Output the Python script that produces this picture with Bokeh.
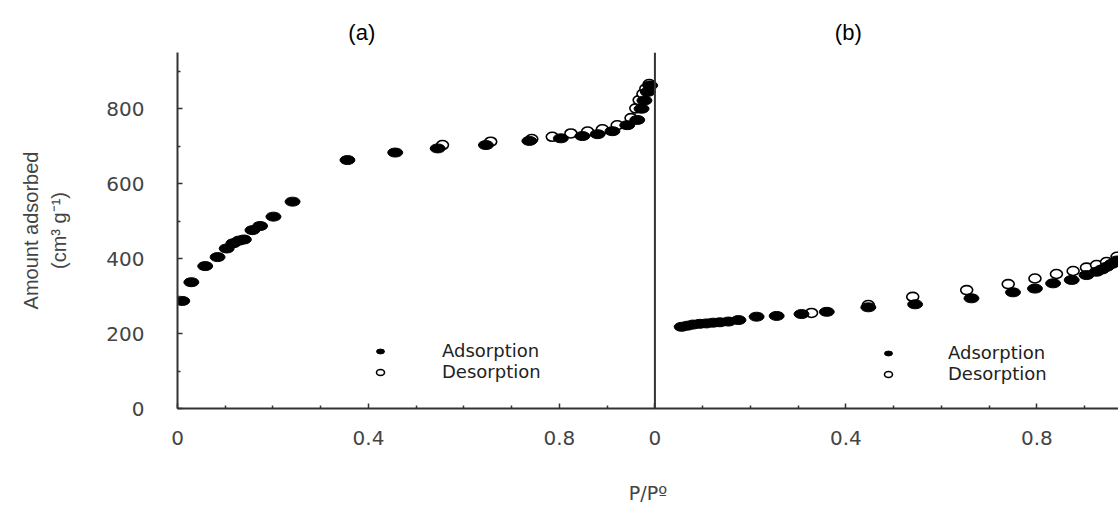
from bokeh.plotting import figure
from bokeh.models import (Range1d, LinearAxis, FixedTicker, Span,
                          Legend, LegendItem)
from bokeh.embed import file_html
from bokeh.resources import INLINE

# ---------------- data ----------------
# panel (a)
a_ads_x = [0.010, 0.029, 0.058, 0.084, 0.103, 0.117, 0.129, 0.139, 0.157, 0.173,
           0.201, 0.241, 0.356, 0.456, 0.545, 0.646, 0.737, 0.803, 0.848, 0.880,
           0.911, 0.942, 0.963, 0.972, 0.978, 0.985, 0.990]
a_ads_y = [287, 337, 380, 404, 427, 441, 448, 451, 476, 487,
           512, 552, 663, 683, 694, 703, 714, 721, 727, 732,
           740, 756, 770, 800, 822, 845, 862]
a_des_x = [0.555, 0.656, 0.742, 0.785, 0.824, 0.859, 0.890, 0.921, 0.950, 0.960,
           0.967, 0.975, 0.981, 0.988]
a_des_y = [703, 712, 719, 725, 734, 739, 745, 756, 775, 801,
           823, 840, 854, 866]

# panel (b)
b_ads_x = [0.056, 0.068, 0.080, 0.094, 0.108, 0.122, 0.136, 0.154, 0.175, 0.213,
           0.255, 0.307, 0.360, 0.447, 0.545, 0.663, 0.750, 0.796, 0.834, 0.873,
           0.904, 0.925, 0.936, 0.946, 0.957, 0.968]
b_ads_y = [218, 221, 224, 226, 227, 229, 230, 232, 236, 245,
           247, 252, 258, 270, 278, 294, 310, 320, 334, 343,
           356, 365, 371, 378, 386, 395]
b_des_x = [0.328, 0.447, 0.540, 0.653, 0.740, 0.796, 0.841, 0.876, 0.904, 0.925,
           0.946, 0.968]
b_des_y = [255, 276, 298, 316, 332, 347, 359, 367, 376, 383,
           391, 405]

series_labels = ["Adsorption", "Desorption"]
panel_titles = ["(a)", "(b)"]
y_ticks = [0, 200, 400, 600, 800]
y_minor = [100, 300, 500, 700, 900]
panel_ticks = [0, 0.4, 0.8]
panel_tick_labels = ["0", "0.4", "0.8"]
panel_minor = [0.1, 0.2, 0.3, 0.5, 0.6, 0.7, 0.9]
y_label = "Amount adsorbed\n(cm\u00b3 g\u207b\u00b9)"
x_label = "P/P\u00ba"

# ---------------- figure ----------------
W, H = 1118, 506
PANEL_B_OFFSET = 1.0
X_END = 1.971
p = figure(width=W, height=H, output_backend="svg", toolbar_location=None,
           x_range=Range1d(0, X_END), y_range=Range1d(0, 950),
           min_border_left=177, min_border_right=0, min_border_top=52,
           min_border_bottom=98, x_axis_type=None, y_axis_type=None)
p.extra_x_ranges = {"b": Range1d(-PANEL_B_OFFSET, X_END - PANEL_B_OFFSET)}
p.outline_line_color = None
p.xgrid.visible = False
p.ygrid.visible = False
p.background_fill_color = "white"
p.border_fill_color = "white"

AX = "#333333"
LBL = "#444444"

common = dict(axis_line_width=2, axis_line_color=AX,
              major_tick_in=5, major_tick_out=0, minor_tick_in=3, minor_tick_out=0,
              major_tick_line_color=AX, minor_tick_line_color=AX,
              major_tick_line_width=1.5, minor_tick_line_width=1.5,
              major_label_text_font="DejaVu Sans",
              major_label_text_font_size="20px",
              major_label_text_color=LBL)

# x axis: panel (a) ticks followed by panel (b) ticks on the shared line
xt = panel_ticks + [t + PANEL_B_OFFSET for t in panel_ticks]
xm = panel_minor + [PANEL_B_OFFSET + t for t in panel_minor]
xaxis = LinearAxis(ticker=FixedTicker(ticks=xt, minor_ticks=xm),
                   major_label_standoff=22,
                   axis_label=x_label, axis_label_standoff=34,
                   axis_label_text_font="DejaVu Sans",
                   axis_label_text_font_size="19px",
                   axis_label_text_font_style="normal",
                   axis_label_text_color=LBL, **common)
xaxis.major_label_overrides = {t + PANEL_B_OFFSET: lab
                               for t, lab in zip(panel_ticks, panel_tick_labels)}
p.add_layout(xaxis, "below")

yaxis = LinearAxis(ticker=FixedTicker(ticks=y_ticks, minor_ticks=y_minor),
                   major_label_standoff=33,
                   axis_label=y_label, axis_label_standoff=33,
                   axis_label_text_font="Liberation Sans",
                   axis_label_text_font_size="20px",
                   axis_label_text_font_style="normal",
                   axis_label_text_line_height=1.3,
                   axis_label_text_color=LBL, **common)
p.add_layout(yaxis, "left")

# panel titles, carried by a bare top axis
title_pos = [0.386, PANEL_B_OFFSET + 0.405]
taxis = LinearAxis(ticker=FixedTicker(ticks=title_pos, minor_ticks=[]),
                   axis_line_color=None, major_tick_line_color=None,
                   minor_tick_line_color=None, major_tick_out=0, major_tick_in=0,
                   major_label_standoff=8,
                   major_label_text_font="Liberation Sans",
                   major_label_text_font_size="22px",
                   major_label_text_color="black")
taxis.major_label_overrides = {t: lab for t, lab in zip(title_pos, panel_titles)}
p.add_layout(taxis, "above")

# divider = y axis line of panel (b)
p.add_layout(Span(location=0, dimension="height", line_color=AX, line_width=2,
                  x_range_name="b"))

# ---------------- markers ----------------
def open_pts(xs, ys, rng):
    return p.ellipse(x=xs, y=ys, width=12, height=9, width_units="screen",
                     height_units="screen", fill_color="white", line_color="black",
                     line_width=1.6, x_range_name=rng)

def closed_pts(xs, ys, rng):
    return p.ellipse(x=xs, y=ys, width=15, height=9, width_units="screen",
                     height_units="screen", fill_color="black", line_color="black",
                     line_width=1, x_range_name=rng)

ra_des = open_pts(a_des_x, a_des_y, "default")
ra_ads = closed_pts(a_ads_x, a_ads_y, "default")
rb_des = open_pts(b_des_x, b_des_y, "b")
rb_ads = closed_pts(b_ads_x, b_ads_y, "b")

def make_legend(r_ads, r_des, loc, standoff):
    lg = Legend(items=[LegendItem(label=series_labels[0], renderers=[r_ads]),
                       LegendItem(label=series_labels[1], renderers=[r_des])],
                location=loc, orientation="vertical", padding=0, margin=0,
                spacing=-5, glyph_width=20, glyph_height=10, label_height=17,
                label_standoff=standoff, label_text_font="DejaVu Sans",
                label_text_font_size="18px", label_text_line_height=0.9,
                label_text_color="#222222", label_text_baseline="middle",
                border_line_color=None, background_fill_alpha=0)
    p.add_layout(lg, "center")

make_legend(ra_ads, ra_des, (193, 26), 52)
make_legend(rb_ads, rb_des, (701, 24), 50)

open("out.html", "w").write(file_html(p, INLINE))
